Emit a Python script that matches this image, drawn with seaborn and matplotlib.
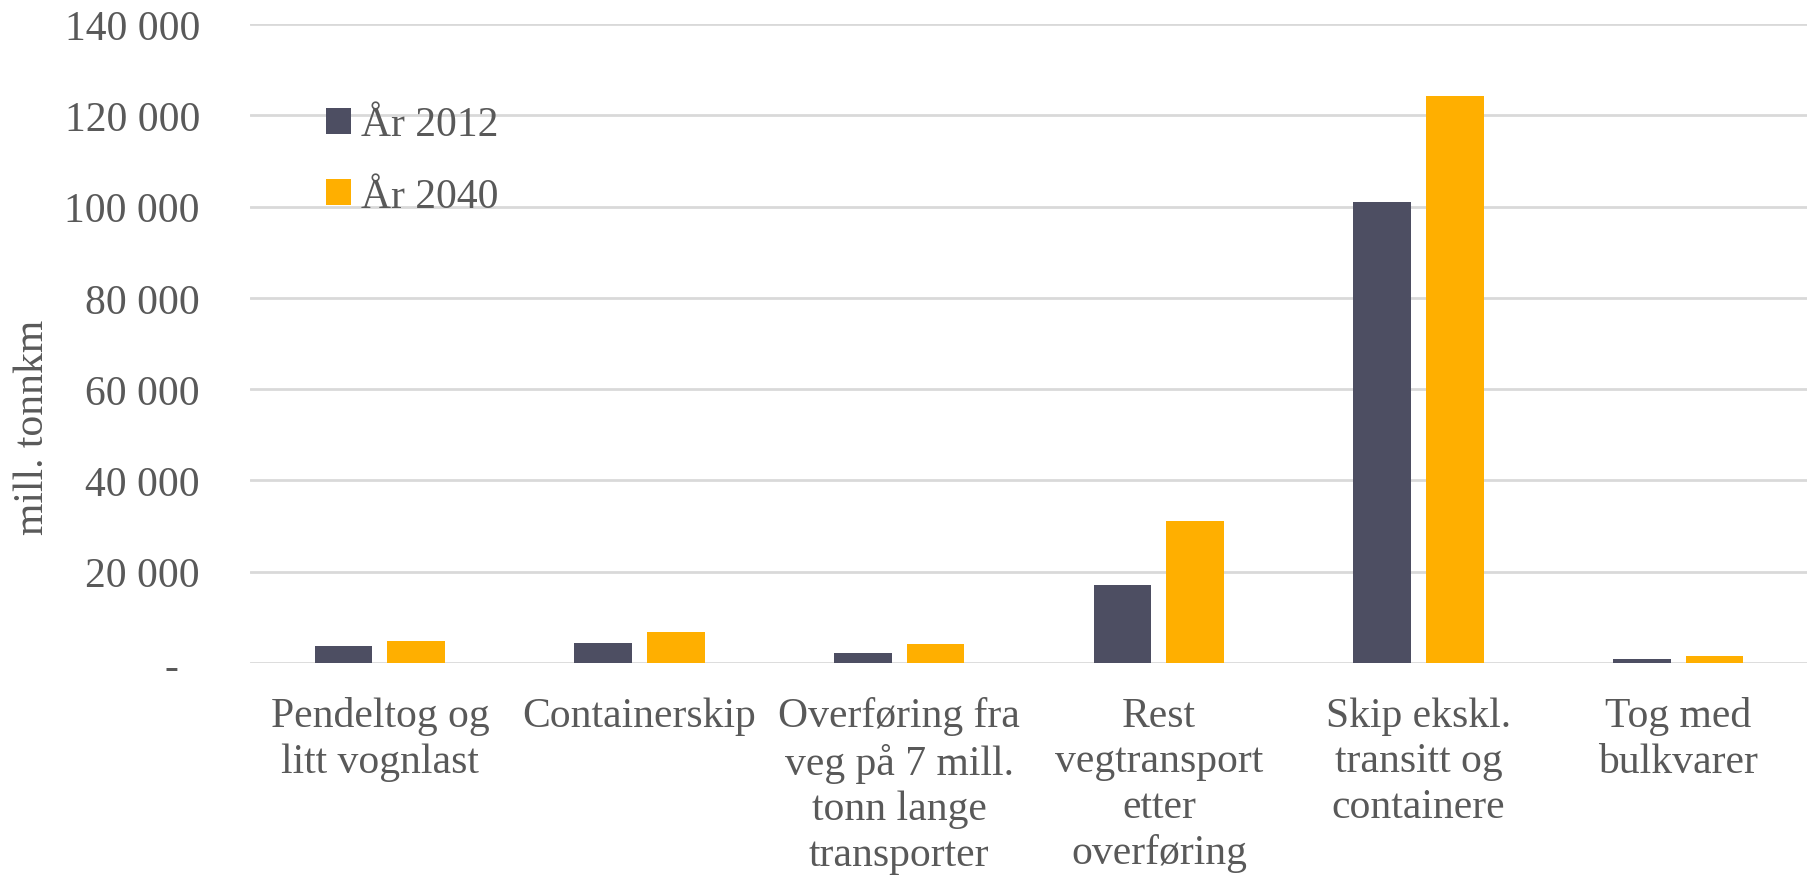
import matplotlib
matplotlib.use("Agg")
import matplotlib.pyplot as plt
from matplotlib.ticker import FuncFormatter, MultipleLocator
import seaborn as sns
import pandas as pd

# Freight volumes (mill. tonnkm) by transport segment
categories = [
    "Pendeltog og\nlitt vognlast",
    "Containerskip",
    "Overføring fra\nveg på 7 mill.\ntonn lange\ntransporter",
    "Rest\nvegtransport\netter\noverføring",
    "Skip ekskl.\ntransitt og\ncontainere",
    "Tog med\nbulkvarer",
]
years = ["År 2012", "År 2040"]
values_2012 = [3800, 4400, 2100, 17100, 100900, 900]
values_2040 = [4900, 6800, 4100, 31200, 124300, 1600]
colors = ["#4D4E62", "#FFAF00"]

df = pd.DataFrame({
    "kategori": categories * 2,
    "år": [years[0]] * len(categories) + [years[1]] * len(categories),
    "verdi": values_2012 + values_2040,
})

sns.set_theme(style="white")
plt.rcParams["font.family"] = ["Liberation Serif", "DejaVu Serif"]
text_color = "#595959"
fs = 30

fig = plt.figure(figsize=(18.08, 8.78), dpi=100)
ax = fig.add_axes([250 / 1808, 1 - 664 / 878, 1 - 250 / 1808, (664 - 25) / 878])

sns.barplot(data=df, x="kategori", y="verdi", hue="år", palette=colors,
            saturation=1, width=0.56, gap=0.21, linewidth=0, ax=ax,
            errorbar=None)

ax.set_ylim(0, 140000)
ax.yaxis.set_major_locator(MultipleLocator(20000))


def fmt(v, _):
    if v == 0:
        return "-  "
    return f"{int(v):,}".replace(",", " ")


ax.yaxis.set_major_formatter(FuncFormatter(fmt))
ax.grid(axis="y", color="#D9D9D9", linewidth=2)
ax.set_axisbelow(True)
for s in ["top", "right", "left", "bottom"]:
    ax.spines[s].set_visible(False)

ax.tick_params(axis="y", length=0, pad=36, labelsize=fs, labelcolor=text_color)
ax.tick_params(axis="x", length=0, pad=24, labelsize=fs, labelcolor=text_color)
for lab in ax.get_xticklabels():
    lab.set_linespacing(1.24)
    lab.set_horizontalalignment("center")

ax.set_xlabel("")
ax.set_ylabel("mill. tonnkm", fontsize=fs, color=text_color)
ax.yaxis.set_label_coords((52 - 250) / 1558, 1 - (427 - 25) / 639)

leg = ax.legend(loc="upper left", bbox_to_anchor=(0.049, 0.872), frameon=False,
                fontsize=fs, borderpad=0, borderaxespad=0,
                handlelength=0.58, handleheight=0.58, handletextpad=0.25,
                labelspacing=0.8)
for t in leg.get_texts():
    t.set_color(text_color)

fig.savefig("out.png", dpi=100, facecolor="white")
